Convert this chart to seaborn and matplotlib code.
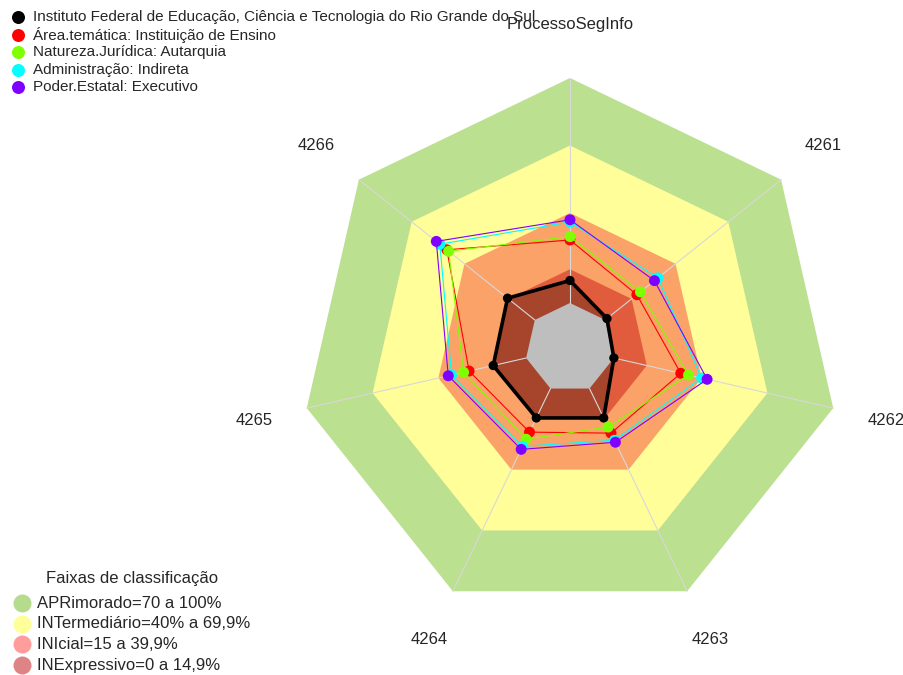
import numpy as np
import pandas as pd
import matplotlib
matplotlib.use("Agg")
import matplotlib.pyplot as plt
import seaborn as sns

# Radar axes (clockwise from top)
eixos = ["ProcessoSegInfo", "4261", "4262", "4263", "4264", "4265", "4266"]

# Scores (%) per group
inst = [10, 1, 0, 14.5, 14.5, 15, 15.5]
area = [28, 18, 30.5, 22, 21.5, 26, 50]
natureza = [29.5, 20, 34, 19, 25, 28.5, 49]
admin = [36, 30, 40, 25.5, 28.5, 34, 54]
poder = [37, 28, 42.5, 26.5, 30, 35.5, 56]

series_nomes = [
    "Instituto Federal de Educação, Ciência e Tecnologia do Rio Grande do Sul",
    "Área.temática: Instituição de Ensino",
    "Natureza.Jurídica: Autarquia",
    "Administração: Indireta",
    "Poder.Estatal: Executivo",
]
series_cores = ["#000000", "#ff0000", "#80ff00", "#00ffff", "#8000ff"]

# Classification bands
faixas_limites = [0, 15, 40, 70, 100]
faixas_rotulos = ["APRimorado=70 a 100%", "INTermediário=40% a 69,9%",
                  "INIcial=15 a 39,9%", "INExpressivo=0 a 14,9%"]
faixas_cores_legenda = ["#b5dc8c", "#ffff99", "#ff9c9c", "#de8484"]

sns.set_style("white")
plt.rcParams["font.family"] = ["Liberation Sans", "DejaVu Sans"]

W, H = 904, 675
CX, CY, R = 570, 348, 270  # centre and outer radius in pixels
SEG = 5                     # rings: value 0 sits one segment away from centre

fig = plt.figure(figsize=(W / 100, H / 100), dpi=100)
ax = fig.add_axes([0, 0, 1, 1])
ax.set_xlim(-CX / R, (W - CX) / R)
ax.set_ylim(-(H - CY) / R, CY / R)
ax.set_aspect("equal")
ax.axis("off")

n = len(eixos)
ang = np.pi / 2 - 2 * np.pi * np.arange(n) / n


def raio(v):
    v = np.asarray(v, dtype=float) / 100.0
    return (1 + SEG * v) / (SEG + 1)


def xy(vals):
    r = raio(vals)
    return r * np.cos(ang), r * np.sin(ang)


def poligono(valor, **kw):
    x, y = xy([valor] * n)
    ax.fill(x, y, lw=0, **kw)


# Background bands
poligono(faixas_limites[4], color="#bbe090", zorder=1)
poligono(faixas_limites[3], color="#fffe99", zorder=1)
poligono(faixas_limites[2], color="#faa268", zorder=1)
poligono(faixas_limites[1], color="#e05c3c", zorder=1)

# Institution polygon shading
xi, yi = xy(inst)
ax.fill(xi, yi, color="black", alpha=0.25, lw=0, zorder=2)

# Centre
poligono(faixas_limites[0], color="#bebebe", zorder=3)

# Spokes
x0, y0 = xy([0] * n)
x1, y1 = xy([100] * n)
for a, b, c, d in zip(x0, y0, x1, y1):
    ax.plot([a, c], [b, d], color="#d8d8d8", lw=0.8, zorder=4)

# Series lines and points
todas = [inst, area, natureza, admin, poder]
for k, (vals, nome, cor) in enumerate(zip(todas, series_nomes, series_cores)):
    x, y = xy(vals)
    df = pd.DataFrame({"x": np.r_[x, x[0]], "y": np.r_[y, y[0]]})
    preto = k == 0
    sns.lineplot(data=df, x="x", y="y", sort=False, estimator=None, ax=ax,
                 color=cor, lw=2.6 if preto else 0.8, zorder=5 + k)
    sns.scatterplot(x=x, y=y, ax=ax, color=cor, s=45 if preto else 62,
                    edgecolor="none", zorder=5 + k)

# Axis labels
for a, rot in zip(ang, eixos):
    ax.text(1.2 * np.cos(a), 1.2 * np.sin(a), rot,
            ha="center", va="center", fontsize=12, zorder=20)


def px(x, y):
    return x / W, 1 - y / H


def bolinha(x, y, diam, cor):
    fx, fy = px(x, y)
    ax.plot([fx], [fy], "o", ms=diam * 0.72, color=cor, mec="none",
            transform=fig.transFigure, clip_on=False, zorder=30)


# Series legend
for i, (nome, cor) in enumerate(zip(series_nomes, series_cores)):
    yy = 17 + 17.6 * i
    bolinha(18, yy, 13, cor)
    fig.text(*px(33, yy), nome, ha="left", va="center", fontsize=11, zorder=30)

# Band legend
fig.text(*px(132, 578), "Faixas de classificação", ha="center", va="center",
         fontsize=12)
for i, (rot, cor) in enumerate(zip(faixas_rotulos, faixas_cores_legenda)):
    yy = 603 + 20.7 * i
    bolinha(22, yy, 18, cor)
    fig.text(*px(37, yy), rot, ha="left", va="center", fontsize=12)

fig.savefig("out.png", dpi=100)
